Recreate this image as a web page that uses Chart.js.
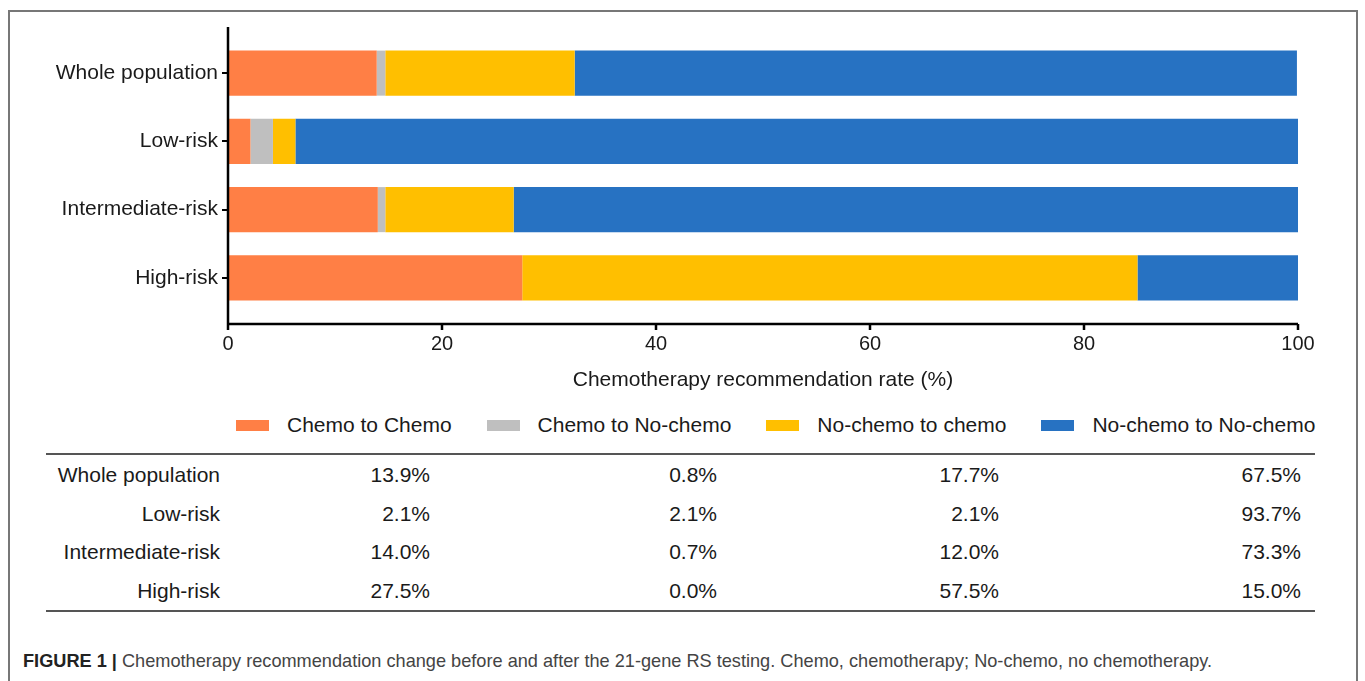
<!DOCTYPE html>
<html>
<head>
<meta charset="utf-8">
<script src="https://cdn.jsdelivr.net/npm/chart.js@4/dist/chart.umd.min.js"></script>
<style>
  body { margin: 0; background: #fff; font-family: "Liberation Sans", Arial, sans-serif; color: #1a1a1a; }
  #frame { position: absolute; left: 8px; top: 10px; width: 1346px; height: 700px; border: 2px solid #777; }
  #wrap { position: absolute; left: 0; top: 0; width: 1365px; height: 400px; }
  #legend { position: absolute; left: 236px; top: 413px; display: flex; align-items: center; font-size: 21px; white-space: nowrap; }
  #legend .item { display: flex; align-items: center; margin-right: 35px; }
  #legend .box { width: 33px; height: 11px; margin-right: 18px; }
  #tbl { position: absolute; left: 46px; top: 453px; border-collapse: collapse; font-size: 21px;
         border-top: 2px solid #555; border-bottom: 2px solid #555; }
  #tbl td { height: 38.75px; padding: 0 14px 0 0; text-align: right; line-height: 1; }
  #caption { position: absolute; left: 23px; top: 650px; font-family: "Liberation Sans", sans-serif;
             font-size: 19px; color: #444; white-space: nowrap; transform: scaleX(0.956); transform-origin: left top; }
  #caption b { color: #222; }
</style>
</head>
<body>
<div id="frame"></div>
<div id="wrap"><canvas id="barChart" width="1365" height="400"></canvas></div>
<div id="legend"></div>
<table id="tbl"></table>
<div id="caption"><b>FIGURE 1 |</b> Chemotherapy recommendation change before and after the 21-gene RS testing. Chemo, chemotherapy; No-chemo, no chemotherapy.</div>
<script>
// kategori (sumbu y)
const categories = ['Whole population', 'Low-risk', 'Intermediate-risk', 'High-risk'];
// nama seri
const seriesNames = ['Chemo to Chemo', 'Chemo to No-chemo', 'No-chemo to chemo', 'No-chemo to No-chemo'];
// nilai tiap seri (%)
const chemoToChemo = [13.9, 2.1, 14.0, 27.5];
const chemoToNoChemo = [0.8, 2.1, 0.7, 0.0];
const noChemoToChemo = [17.7, 2.1, 12.0, 57.5];
const noChemoToNoChemo = [67.5, 93.7, 73.3, 15.0];
// label sumbu x
const xTicks = [0, 20, 40, 60, 80, 100];

const colors = ['#FF7F45', '#BFBFBF', '#FFBF00', '#2772C2'];
const seriesValues = [chemoToChemo, chemoToNoChemo, noChemoToChemo, noChemoToNoChemo];

// garis sumbu digambar sendiri (sedikit menjorok dari area batang, gaya Prism)
const axisLines = {
  id: 'axisLines',
  afterDraw(chart) {
    const { ctx, chartArea: a, scales: { x } } = chart;
    const gap = 12;
    ctx.save();
    ctx.strokeStyle = '#000';
    ctx.lineWidth = 2.5;
    ctx.beginPath();
    ctx.moveTo(a.left, a.top - gap);
    ctx.lineTo(a.left, a.bottom + gap);
    ctx.lineTo(a.right, a.bottom + gap);
    x.ticks.forEach(t => {
      const px = x.getPixelForValue(t.value);
      ctx.moveTo(px, a.bottom + gap);
      ctx.lineTo(px, a.bottom + gap + 6);
    });
    ctx.stroke();
    ctx.restore();
  }
};

const config = {
  type: 'bar',
  data: {
    labels: categories,
    datasets: seriesNames.map((name, i) => ({
      label: name,
      data: seriesValues[i],
      backgroundColor: colors[i],
      borderWidth: 0,
      barPercentage: 0.66,
      categoryPercentage: 1
    }))
  },
  options: {
    indexAxis: 'y',
    responsive: false,
    animation: false,
    layout: { padding: { top: 39, right: 67, left: 0, bottom: 0 } },
    plugins: {
      legend: { display: false },
      tooltip: { enabled: false }
    },
    scales: {
      x: {
        stacked: true,
        min: 0,
        max: 100,
        afterBuildTicks: s => { s.ticks = xTicks.map(v => ({ value: v })); },
        afterFit: s => { s.height = 88; },
        grid: { display: false },
        border: { display: false },
        ticks: { color: '#1a1a1a', padding: 12, font: { family: 'Liberation Sans', size: 20 } },
        title: {
          display: true,
          text: 'Chemotherapy recommendation rate (%)',
          color: '#1a1a1a',
          font: { family: 'Liberation Sans', size: 21 },
          padding: { top: 0, bottom: 7 }
        }
      },
      y: {
        stacked: true,
        afterFit: s => { s.width = 228; },
        border: { display: false },
        grid: { drawOnChartArea: false, offset: false, color: '#000', lineWidth: 2, tickLength: 6 },
        ticks: { color: '#1a1a1a', padding: 4, font: { family: 'Liberation Sans', size: 21 } }
      }
    }
  },
  plugins: [axisLines]
};

new Chart(document.getElementById('barChart').getContext('2d'), config);

// legenda
const legend = document.getElementById('legend');
seriesNames.forEach((name, i) => {
  const item = document.createElement('div');
  item.className = 'item';
  item.innerHTML = '<span class="box" style="background:' + colors[i] + '"></span><span>' + name + '</span>';
  legend.appendChild(item);
});

// tabel nilai
const tbl = document.getElementById('tbl');
const widths = [188, 210, 287, 282, 302];
categories.forEach((cat, r) => {
  const tr = document.createElement('tr');
  const cells = [cat].concat(seriesValues.map(v => v[r].toFixed(1) + '%'));
  cells.forEach((txt, c) => {
    const td = document.createElement('td');
    td.textContent = txt;
    td.style.width = (widths[c] - 14) + 'px';
    tr.appendChild(td);
  });
  tbl.appendChild(tr);
});
</script>
</body>
</html>
